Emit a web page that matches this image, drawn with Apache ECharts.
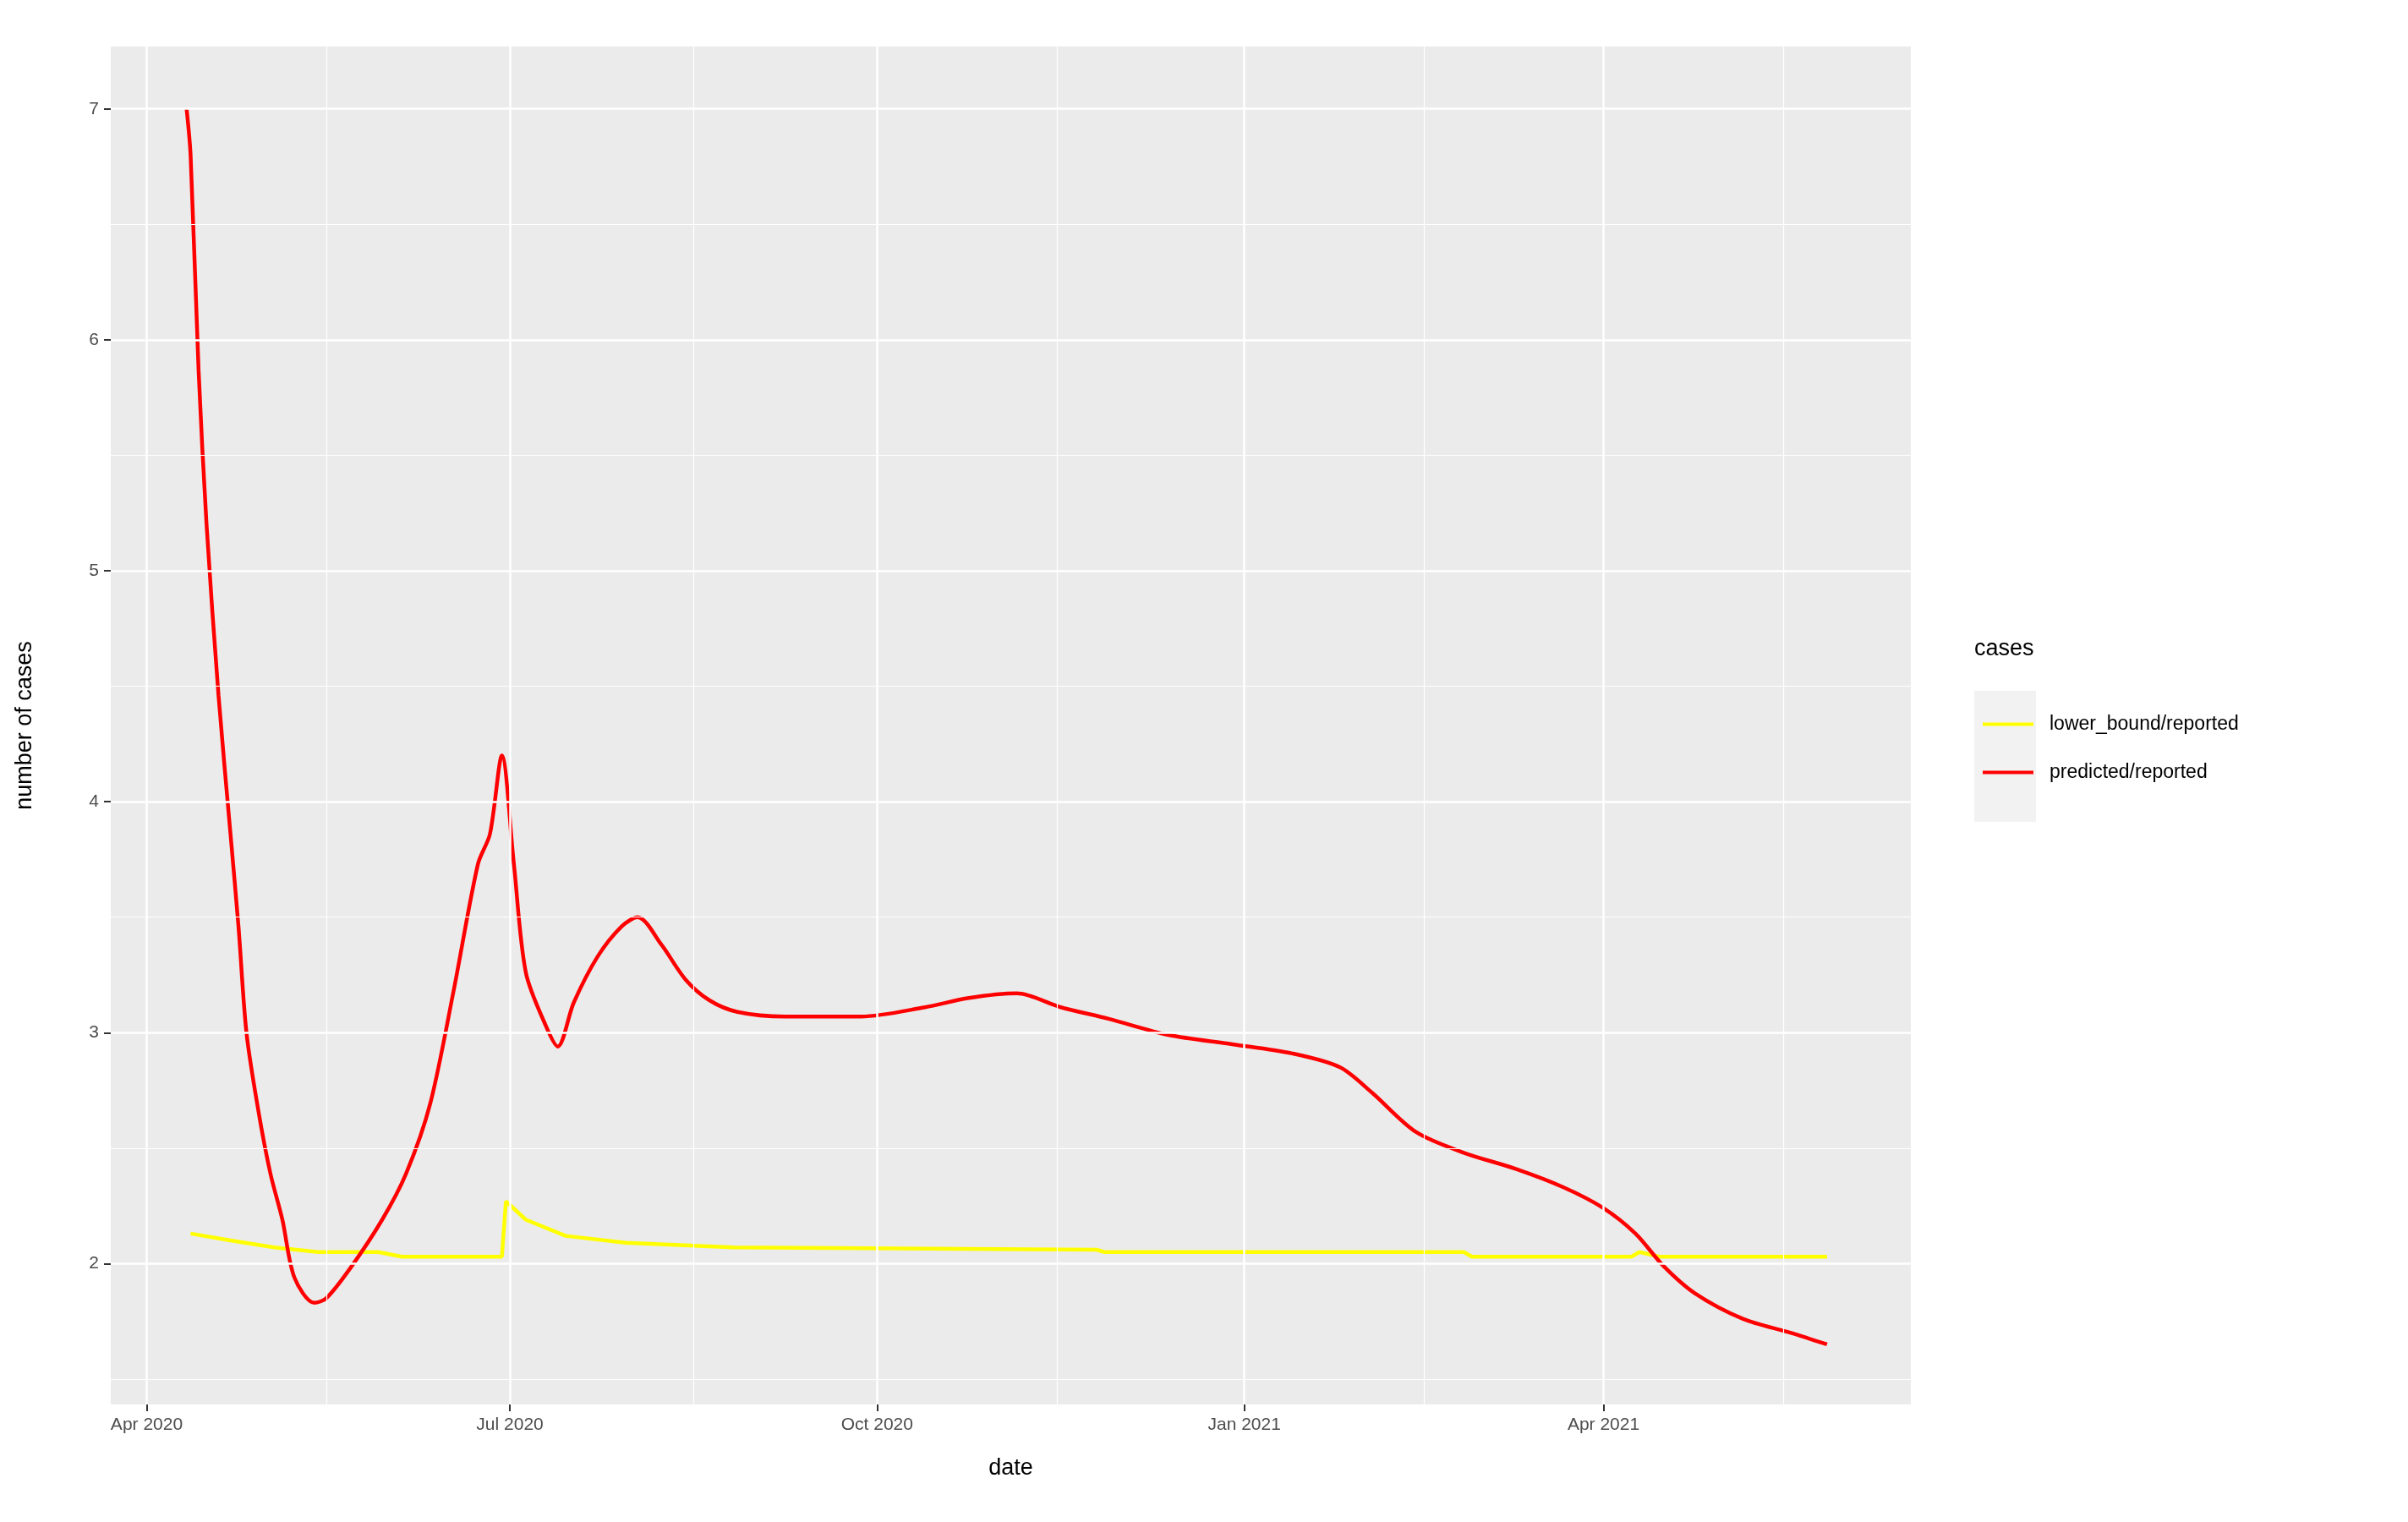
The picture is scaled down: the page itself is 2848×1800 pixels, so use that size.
<!DOCTYPE html>
<html><head><meta charset="utf-8">
<script src="https://cdn.jsdelivr.net/npm/echarts@6/dist/echarts.min.js"></script>
<style>html,body{margin:0;background:#fff}#c{width:2848px;height:1800px}</style>
</head><body><div id="c"></div>
<script>
const predicted = [
['2020-04-11',7.0],['2020-04-12',6.8],['2020-04-14',5.87],['2020-04-16',5.2],['2020-04-19',4.46],['2020-04-22',3.86],
['2020-04-24',3.46],['2020-04-26',3.0],['2020-04-29',2.66],['2020-05-02',2.39],['2020-05-05',2.19],['2020-05-08',1.94],
['2020-05-13',1.83],['2020-05-16',1.85],['2020-05-22',1.98],['2020-05-30',2.19],['2020-06-05',2.39],['2020-06-11',2.69],
['2020-06-17',3.19],['2020-06-23',3.73],['2020-06-26',3.86],['2020-06-29',4.2],['2020-07-02',3.73],['2020-07-05',3.26],
['2020-07-10',3.03],['2020-07-13',2.94],['2020-07-17',3.13],['2020-07-23',3.33],['2020-07-29',3.46],['2020-08-02',3.5],
['2020-08-08',3.38],['2020-08-14',3.23],['2020-08-20',3.14],['2020-08-27',3.09],['2020-09-08',3.07],['2020-09-27',3.07],
['2020-10-13',3.11],['2020-10-24',3.15],['2020-11-05',3.17],['2020-11-16',3.11],['2020-11-28',3.06],['2020-12-13',2.99],
['2020-12-29',2.95],['2021-01-13',2.91],['2021-01-25',2.85],['2021-02-02',2.74],['2021-02-13',2.57],['2021-02-25',2.48],
['2021-03-10',2.41],['2021-03-22',2.33],['2021-04-01',2.24],['2021-04-09',2.13],['2021-04-16',1.99],['2021-04-24',1.87],
['2021-05-06',1.76],['2021-05-18',1.70],['2021-05-27',1.65]
];
const lowerBound = [
['2020-04-12',2.13],['2020-04-22',2.10],['2020-05-03',2.07],['2020-05-14',2.05],['2020-05-29',2.05],['2020-06-04',2.03],
['2020-06-29',2.03],['2020-06-30',2.27],['2020-07-05',2.19],['2020-07-15',2.12],['2020-07-30',2.09],['2020-08-26',2.07],
['2020-11-25',2.06],['2020-11-27',2.05],['2021-02-25',2.05],['2021-02-27',2.03],['2021-04-08',2.03],['2021-04-10',2.05],
['2021-04-15',2.03],['2021-05-27',2.03]
];
const majorX = ['2020-04-01','2020-07-01','2020-10-01','2021-01-01','2021-04-01'];
const minorX = ['2020-05-16','2020-08-16','2020-11-15','2021-02-15','2021-05-16'];
const xLabels = ['Apr 2020','Jul 2020','Oct 2020','Jan 2021','Apr 2021'];
const yTicks = [2,3,4,5,6,7];
const yMinor = [1.5,2.5,3.5,4.5,5.5,6.5];
const ts = s => new Date(s + 'T00:00:00Z').getTime();
const majorTs = majorX.map(ts);
const chart = echarts.init(document.getElementById('c'));
const gridLines = majorTs.map(t => ({xAxis: t, lineStyle:{width:2.5}}))
  .concat(minorX.map(d => ({xAxis: ts(d), lineStyle:{width:1.2}})))
  .concat(yTicks.map(v=>({yAxis:v,lineStyle:{width:2.5}})))
  .concat(yMinor.map(v=>({yAxis:v,lineStyle:{width:1.2}})));
chart.setOption({
  animation:false,
  backgroundColor:'#fff',
  grid:{left:131,right:588,top:55,bottom:139,backgroundColor:'#ebebeb',show:true,borderWidth:0},
  xAxis:{type:'value',min:ts('2020-03-23'),max:ts('2021-06-17'),
    name:'date',nameLocation:'middle',nameGap:62,nameTextStyle:{fontSize:27,color:'#000',fontFamily:'Liberation Sans'},
    axisLine:{show:false},splitLine:{show:false},
    axisTick:{show:true,customValues:majorTs,length:8,lineStyle:{color:'#333',width:2}},
    axisLabel:{customValues:majorTs,fontSize:21,color:'#4d4d4d',margin:14,fontFamily:'Liberation Sans',
      formatter:v=>{const i=majorTs.indexOf(v);return i>=0?xLabels[i]:'';}}},
  yAxis:{type:'value',min:1.39,max:7.27,
    name:'number of cases',nameLocation:'middle',nameGap:88,nameTextStyle:{fontSize:27,color:'#000',fontFamily:'Liberation Sans'},
    axisLine:{show:false},
    axisTick:{show:true,customValues:yTicks,length:8,lineStyle:{color:'#333',width:2}},
    axisLabel:{customValues:yTicks,fontSize:21,color:'#4d4d4d',margin:14,fontFamily:'Liberation Sans'},
    splitLine:{show:false}},
  legend:{orient:'vertical',left:2340,top:840,itemWidth:60,itemHeight:20,itemGap:34,
    icon:'path://M0,8L60,8L60,12L0,12Z',
    textStyle:{fontSize:23,color:'#000',fontFamily:'Liberation Sans',padding:[0,0,0,14]},
    data:['lower_bound/reported','predicted/reported']},
  graphic:[
    {type:'rect',left:2335,top:817,shape:{width:73,height:155},style:{fill:'#f2f2f2'},z:-1},
    {type:'text',left:2335,top:754,style:{text:'cases',fontSize:27,fill:'#000',fontFamily:'Liberation Sans'}}
  ],
  series:[
    {type:'line',name:'grid',data:[],silent:true,
      markLine:{silent:true,symbol:'none',label:{show:false},animation:false,
        lineStyle:{color:'#fff',type:'solid'},data:gridLines},z:1},
    {type:'line',name:'lower_bound/reported',data:lowerBound.map(p=>[ts(p[0]),p[1]]),showSymbol:false,
      lineStyle:{color:'#ffff00',width:4.5},itemStyle:{color:'#ffff00'},z:3},
    {type:'line',name:'predicted/reported',data:predicted.map(p=>[ts(p[0]),p[1]]),showSymbol:false,smooth:0.3,
      lineStyle:{color:'#ff0000',width:4.5},itemStyle:{color:'#ff0000'},z:4}
  ]
});
</script></body></html>
